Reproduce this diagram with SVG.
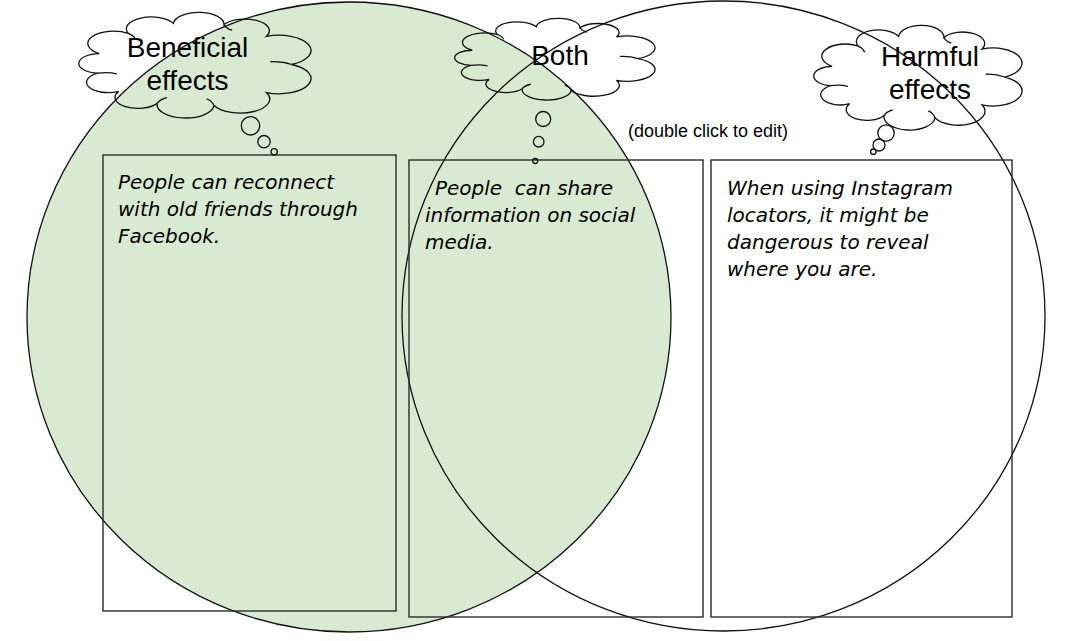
<svg xmlns="http://www.w3.org/2000/svg" xmlns:xlink="http://www.w3.org/1999/xlink" width="1086" height="641" viewBox="0 0 1086 641">
  <defs>
    <style>
      .venn { stroke: #111; stroke-width: 1.3; }
      .box { fill: none; stroke: #2b2b2b; stroke-width: 1.4; }
      .cloud { fill: none; stroke: #111; stroke-width: 1.3; vector-effect: non-scaling-stroke; }
      .bubble { fill: none; stroke: #111; stroke-width: 1.3; }
      .title { font-family: "Liberation Sans", Arial, sans-serif; font-size: 28px; fill: #000; text-anchor: middle; }
      .body { font-family: "DejaVu Sans", sans-serif; font-style: italic; font-size: 20px; fill: #000; }
      .hint { font-family: "Liberation Sans", Arial, sans-serif; font-size: 18px; fill: #000; }
    </style>
    <g id="cloudShape">
      <path class="cloud" d="M 9.4 40.2 A 11.1 11.1 0 0 1 21.9 21.8 A 10.7 10.7 0 0 1 41.3 12.8 A 10.87 10.87 0 0 1 63 13.9 A 10.56 10.56 0 0 1 81.2 24.6 A 13.8 13.8 0 0 1 92 50 A 13.8 13.8 0 0 1 81.2 75.4 A 12.7 12.7 0 0 1 58.7 87.2 A 12.24 12.24 0 0 1 34.3 85.2 A 9.86 9.86 0 0 1 17.8 74.4 A 9.37 9.37 0 0 1 8.9 57.9 A 8.86 8.86 0 0 1 9.4 40.2 Z"/>
      <path class="cloud" d="M 8.9 57.9 Q 13 56.5 17 58.5 M 92 50 Q 88 47 83 47.5 M 58.7 87.2 Q 58 83 55.5 81 M 34.3 85.2 Q 35.5 81.5 38.5 80 M 63 13.9 Q 64 17.5 66.5 19 M 21.9 21.8 Q 24.5 24 25 27.5"/>
    </g>
  </defs>

  <rect width="1086" height="641" fill="#ffffff"/>

  <g id="circle-beneficial">
    <ellipse class="venn" cx="349" cy="317" rx="322" ry="315" fill="#d9ead3"/>
  </g>
  <g id="circle-harmful">
    <ellipse class="venn" cx="723.5" cy="316" rx="321.5" ry="315" fill="none"/>
  </g>

  <g id="box-beneficial">
    <rect class="box" x="103" y="155" width="293" height="456"/>
    <text class="body">
      <tspan x="118" y="189">People can reconnect</tspan>
      <tspan x="118" y="216">with old friends through</tspan>
      <tspan x="118" y="243">Facebook.</tspan>
    </text>
  </g>

  <g id="box-both">
    <rect class="box" x="409" y="160" width="294" height="457"/>
    <text class="body" xml:space="preserve"><tspan x="435" y="195">People  can share</tspan><tspan x="425" y="222">information on social</tspan><tspan x="425" y="249">media.</tspan></text>
  </g>

  <g id="box-harmful">
    <rect class="box" x="711" y="160" width="301" height="457"/>
    <text class="body">
      <tspan x="727" y="195">When using Instagram</tspan>
      <tspan x="727" y="222">locators, it might be</tspan>
      <tspan x="727" y="249">dangerous to reveal</tspan>
      <tspan x="727" y="276">where you are.</tspan>
    </text>
  </g>

  <g id="cloud-beneficial">
    <use xlink:href="#cloudShape" href="#cloudShape" transform="translate(77.3 9.24) scale(2.328 1.105)"/>
    <circle class="bubble" cx="250.5" cy="125.8" r="9.2"/>
    <circle class="bubble" cx="264" cy="141.7" r="6.2"/>
    <circle class="bubble" cx="274.2" cy="151.7" r="3.1"/>
    <text class="title"><tspan x="187.5" y="57">Beneficial</tspan><tspan x="187.5" y="90">effects</tspan></text>
  </g>

  <g id="cloud-both">
    <use xlink:href="#cloudShape" href="#cloudShape" transform="translate(453.4 15.86) scale(2.008 0.855)"/>
    <circle class="bubble" cx="543.2" cy="119" r="7.5"/>
    <circle class="bubble" cx="538.7" cy="141.7" r="5.3"/>
    <circle class="bubble" cx="535.2" cy="161" r="2.5"/>
    <text class="title" x="560" y="65">Both</text>
  </g>

  <g id="cloud-harmful">
    <use xlink:href="#cloudShape" href="#cloudShape" transform="translate(812.4 22.26) scale(2.088 1.095)"/>
    <circle class="bubble" cx="886" cy="133" r="8.2"/>
    <circle class="bubble" cx="879" cy="145" r="6"/>
    <circle class="bubble" cx="873.3" cy="151.7" r="2.7"/>
    <text class="title"><tspan x="930" y="66">Harmful</tspan><tspan x="930" y="99">effects</tspan></text>
  </g>

  <g id="hint">
    <text class="hint" x="628" y="137">(double click to edit)</text>
  </g>
</svg>
